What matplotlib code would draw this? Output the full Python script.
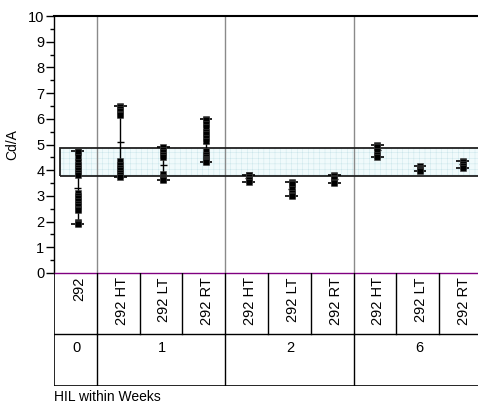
import numpy as np
import matplotlib
matplotlib.use("Agg")
import matplotlib.pyplot as plt
import matplotlib.patches as patches

plt.rcParams['font.family'] = ['Liberation Sans', 'DejaVu Sans']
plt.rcParams['font.size'] = 10
plt.rcParams['hatch.linewidth'] = 0.3

# Dados (Cd/A por célula)
hil_labels = ["292", "292 HT", "292 LT", "292 RT", "292 HT", "292 LT", "292 RT",
              "292 HT", "292 LT", "292 RT"]
weeks = ["0", "1", "1", "1", "2", "2", "2", "6", "6", "6"]

c0 = [4.75, 4.7, 4.5, 4.3, 4.2, 4.1, 4.0, 3.9, 3.8, 3.1, 3.0, 2.9, 2.8, 2.7, 2.6, 2.5, 2.45, 2.0, 1.95, 1.9]
c1 = [6.5, 6.45, 6.4, 6.3, 6.2, 6.15, 4.35, 4.2, 4.1, 4.0, 3.9, 3.8, 3.75]
c2 = [4.9, 4.8, 4.7, 4.6, 4.5, 3.85, 3.75, 3.7, 3.65, 3.6]
c3 = [6.0, 5.95, 5.8, 5.7, 5.5, 5.4, 5.25, 5.15, 4.75, 4.6, 4.5, 4.45, 4.4, 4.35, 4.3]
c4 = [3.82, 3.8, 3.72, 3.65, 3.6, 3.55]
c5 = [3.55, 3.5, 3.45, 3.25, 3.1, 3.05, 3.0]
c6 = [3.8, 3.78, 3.7, 3.65, 3.55, 3.5]
c7 = [5.0, 4.95, 4.9, 4.75, 4.6, 4.5]
c8 = [4.15, 4.1, 4.05, 4.0, 3.95]
c9 = [4.35, 4.3, 4.25, 4.15, 4.1]
cells = [c0, c1, c2, c3, c4, c5, c6, c7, c8, c9]

# limites de especificação (faixa)
spec_low = 3.78
spec_high = 4.85

W, H = 478, 405
fig = plt.figure(figsize=(W / 100, H / 100), dpi=100)

x_left = 54
col_w = 42.8
n = len(cells)
ax = fig.add_axes([x_left / W, 1 - 273 / H, col_w * n / W, 257 / H])
ax.set_xlim(-0.5, n - 0.5)
ax.set_ylim(0, 10)

# faixa com grade clara
band_x0 = -0.5 + 6 / col_w
band = patches.Rectangle((band_x0, spec_low), n - band_x0, spec_high - spec_low,
                         facecolor='#f0fafb', edgecolor='#c6e3e8', lw=0, hatch='+++', zorder=1)
ax.add_patch(band)
ax.add_patch(patches.Rectangle((band_x0, spec_low), n - band_x0, spec_high - spec_low,
                               fill=False, edgecolor='#202020', lw=1.3, zorder=2))

# separadores das semanas
groups = []
for i, w in enumerate(weeks):
    if i == 0 or w != weeks[i - 1]:
        groups.append([i, i])
    else:
        groups[-1][1] = i
for g in groups[1:]:
    ax.axvline(g[0] - 0.5, color='#8a8a8a', lw=1, zorder=1)

# pontos, faixas min-max e média
for i, vals in enumerate(cells):
    v = np.array(vals)
    xp = i + 0.05
    ax.vlines(xp, v.min(), v.max(), color='black', lw=1, zorder=3)
    ax.hlines([v.min(), v.max()], xp - 0.15, xp + 0.15, color='black', lw=1.2, zorder=3)
    ax.hlines(v.mean(), xp - 0.08, xp + 0.08, color='black', lw=1, zorder=3)
    ax.plot(np.full(len(v), xp), v, ls='none', marker='s', ms=4.4,
            mfc='black', mec='#444444', mew=0.4, zorder=4)

ax.set_yticks(np.arange(0, 11, 1))
ax.set_yticks(np.arange(0.5, 10, 1), minor=True)
ax.tick_params(axis='y', which='major', length=6, width=1, direction='out', pad=1, labelsize=10.5)
ax.tick_params(axis='y', which='minor', length=3, width=1, direction='out')
ax.set_xticks([])
ax.spines['right'].set_visible(False)
ax.spines['top'].set_linewidth(1.5)
ax.spines['left'].set_linewidth(1)
ax.spines['bottom'].set_color('#800080')
ax.spines['bottom'].set_linewidth(1)
ax.set_ylabel('Cd/A', labelpad=6)

# tabela de rótulos abaixo do gráfico
tab = fig.add_axes([x_left / W, 1 - 386 / H, col_w * n / W, 113 / H])
tab.set_xlim(-0.5, n - 0.5)
tab.set_ylim(0, 1)
tab.axis('off')
split = (386 - 334) / 113
tab.plot([-0.5, -0.5], [0, 1], color='black', lw=1.2)
tab.plot([-0.5, n - 0.5], [0, 0], color='black', lw=1.2)
tab.plot([-0.5, n - 0.5], [split, split], color='black', lw=1)
for i in range(1, n):
    tab.plot([i - 0.5, i - 0.5], [split, 1], color='black', lw=1)
for g in groups[1:]:
    tab.plot([g[0] - 0.5, g[0] - 0.5], [0, split], color='black', lw=1)

for i, lab in enumerate(hil_labels):
    tab.text(i + 0.08, 1 - 4 / 113, lab, rotation=90, ha='center', va='top', fontsize=10.5)
for g in groups:
    tab.text((g[0] + g[1]) / 2 + 0.03, (386 - 348) / 113, weeks[g[0]],
             ha='center', va='center', fontsize=10.5)

fig.text(x_left / W, 1 - 397 / H, 'HIL within Weeks', ha='left', va='center', fontsize=10)

fig.savefig('out.png', dpi=100)
